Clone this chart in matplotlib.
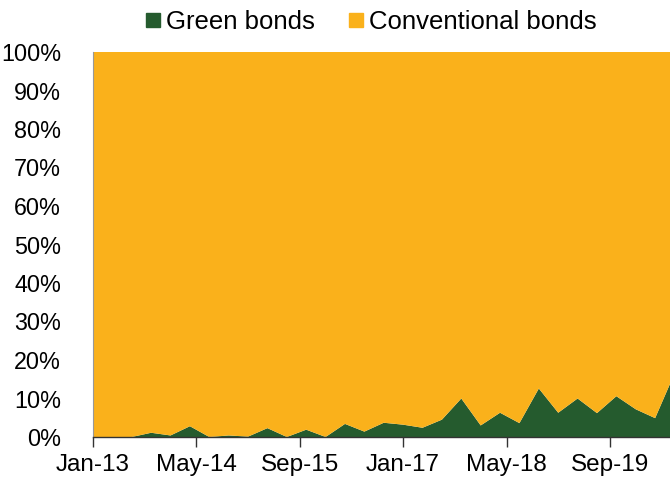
import matplotlib.pyplot as plt
import numpy as np
from matplotlib.lines import Line2D

plt.rcParams['font.family'] = ['Liberation Sans', 'DejaVu Sans']

# quarterly observations, Jan-13 .. Jul-20 (months since Jan-13)
months = [3 * k for k in range(31)]
green = [0.0, 0.0, 0.0, 1.1, 0.4, 2.8, 0.0, 0.4, 0.1, 2.3,
         0.0, 1.9, 0.0, 3.4, 1.4, 3.7, 3.2, 2.4, 4.5, 10.0,
         3.0, 6.3, 3.6, 12.6, 6.3, 10.0, 6.2, 10.6, 7.2, 4.9, 16.5]
conventional = [100 - g for g in green]

tick_months = [0, 16, 32, 48, 64, 80]
tick_labels = ['Jan-13', 'May-14', 'Sep-15', 'Jan-17', 'May-18', 'Sep-19']
y_ticks = list(range(0, 101, 10))

GREEN = '#255B2E'
ORANGE = '#FAB11B'

fig = plt.figure(figsize=(6.70, 4.82), dpi=100)
ax = fig.add_axes([93 / 670, 1 - 437 / 482, (670 - 93) / 670, (437 - 52) / 482])

ax.stackplot(months, green, conventional, colors=[GREEN, ORANGE], linewidth=0)

ax.set_xlim(0, 89.3)
ax.set_ylim(0, 100)
ax.set_xticks(tick_months)
ax.set_xticklabels(tick_labels)
ax.set_yticks(y_ticks)
ax.set_yticklabels([f'{v}%' for v in y_ticks])

ax.tick_params(axis='x', direction='out', length=7, width=1, color='#333333',
               labelsize=17.5, pad=5)
ax.tick_params(axis='y', length=0, labelsize=16.8, pad=23)

for side in ['top', 'right']:
    ax.spines[side].set_visible(False)
ax.spines['bottom'].set_color('#333333')
ax.spines['bottom'].set_linewidth(1)
ax.spines['left'].set_color('#999999')
ax.spines['left'].set_linewidth(0.8)

handles = [
    Line2D([], [], marker='s', linestyle='none', color=GREEN, markersize=10),
    Line2D([], [], marker='s', linestyle='none', color=ORANGE, markersize=10),
]
fig.legend(handles, ['Green bonds', 'Conventional bonds'], loc='center',
           bbox_to_anchor=(370 / 670, 1 - 22 / 482), ncol=2, frameon=False,
           fontsize=18.5, handletextpad=0.1, columnspacing=1.2, handlelength=0.8)

fig.savefig('out.png', dpi=100)
